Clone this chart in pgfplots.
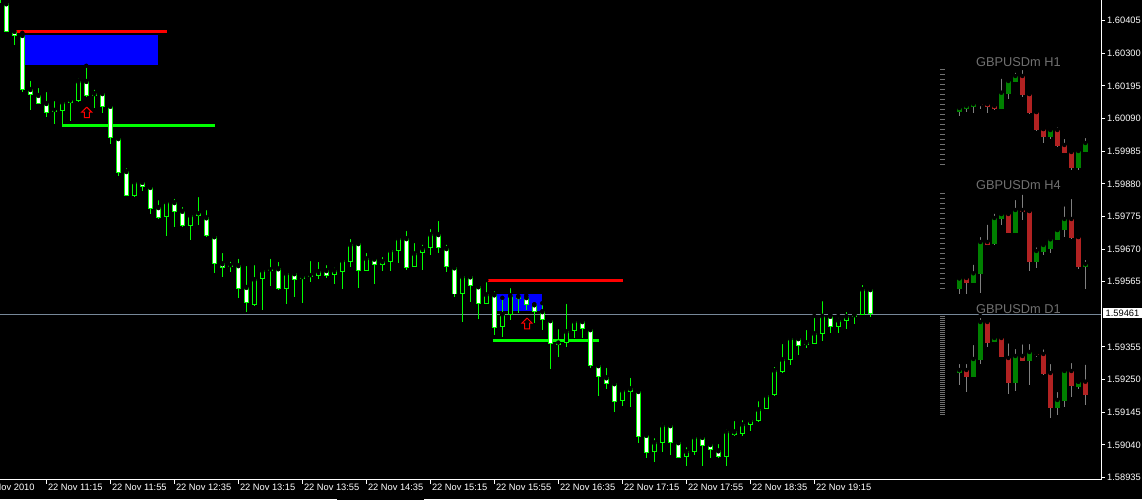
\documentclass[border=0pt]{standalone}
\usepackage{pgfplots}
\pgfplotsset{compat=1.18}
\usepackage{pgfplotstable}
\usepackage{fontspec}
\setmainfont{Liberation Sans}

\definecolor{candle}{RGB}{0,255,0}
\definecolor{bidline}{RGB}{119,136,153}
\definecolor{panelgrey}{RGB}{112,112,112}
\definecolor{wickgrey}{RGB}{128,128,128}
\definecolor{upbody}{RGB}{0,128,0}
\definecolor{downbody}{RGB}{178,34,34}

% GBPUSDm M5 bars: k = bar index (0 = 10:50), open, high, low, close
\pgfplotstableread{
k o h l c
-1 1.60536 1.60536 1.60462 1.60462
0 1.60461 1.60461 1.60370 1.60370
1 1.60372 1.60382 1.60327 1.60357
2 1.60359 1.60366 1.60177 1.60182
3 1.60185 1.60218 1.60118 1.60167
4 1.60166 1.60195 1.60136 1.60138
5 1.60140 1.60182 1.60096 1.60109
6 1.60118 1.60153 1.60073 1.60111
7 1.60115 1.60143 1.60073 1.60143
8 1.60141 1.60163 1.60083 1.60151
9 1.60148 1.60225 1.60144 1.60211
10 1.60211 1.60260 1.60161 1.60164
11 1.60163 1.60190 1.60125 1.60172
12 1.60172 1.60172 1.60107 1.60128
13 1.60131 1.60131 1.60008 1.60029
14 1.60027 1.60027 1.59906 1.59914
15 1.59921 1.59937 1.59842 1.59842
16 1.59841 1.59896 1.59838 1.59886
17 1.59886 1.59899 1.59858 1.59871
18 1.59870 1.59876 1.59783 1.59800
19 1.59805 1.59834 1.59767 1.59771
20 1.59774 1.59824 1.59713 1.59822
21 1.59821 1.59838 1.59741 1.59790
22 1.59793 1.59812 1.59740 1.59745
23 1.59745 1.59789 1.59700 1.59779
24 1.59778 1.59844 1.59748 1.59785
25 1.59772 1.59802 1.59710 1.59713
26 1.59711 1.59711 1.59594 1.59621
27 1.59624 1.59664 1.59581 1.59610
28 1.59618 1.59636 1.59596 1.59613
29 1.59618 1.59645 1.59514 1.59543
30 1.59548 1.59622 1.59468 1.59496
31 1.59490 1.59625 1.59487 1.59573
32 1.59575 1.59602 1.59474 1.59602
33 1.59600 1.59645 1.59552 1.59605
34 1.59608 1.59635 1.59539 1.59543
35 1.59543 1.59592 1.59494 1.59592
36 1.59592 1.59603 1.59517 1.59571
37 1.59575 1.59595 1.59497 1.59583
38 1.59581 1.59638 1.59565 1.59586
39 1.59584 1.59635 1.59574 1.59599
40 1.59602 1.59625 1.59578 1.59584
41 1.59588 1.59617 1.59559 1.59602
42 1.59597 1.59634 1.59542 1.59634
43 1.59629 1.59709 1.59613 1.59685
44 1.59689 1.59699 1.59546 1.59600
45 1.59600 1.59664 1.59600 1.59640
46 1.59639 1.59648 1.59559 1.59620
47 1.59620 1.59651 1.59600 1.59631
48 1.59629 1.59669 1.59600 1.59666
49 1.59665 1.59705 1.59626 1.59705
50 1.59705 1.59735 1.59603 1.59610
51 1.59613 1.59696 1.59613 1.59656
52 1.59656 1.59691 1.59603 1.59673
53 1.59675 1.59741 1.59652 1.59718
54 1.59718 1.59767 1.59658 1.59675
55 1.59673 1.59691 1.59597 1.59613
56 1.59611 1.59611 1.59515 1.59524
57 1.59526 1.59589 1.59436 1.59582
58 1.59582 1.59587 1.59501 1.59550
59 1.59550 1.59550 1.59446 1.59494
60 1.59494 1.59570 1.59494 1.59524
61 1.59524 1.59541 1.59393 1.59415
62 1.59418 1.59513 1.59388 1.59461
63 1.59457 1.59551 1.59442 1.59521
64 1.59519 1.59532 1.59463 1.59510
65 1.59515 1.59521 1.59474 1.59491
66 1.59492 1.59492 1.59432 1.59468
67 1.59470 1.59496 1.59410 1.59441
68 1.59441 1.59448 1.59284 1.59364
69 1.59369 1.59419 1.59324 1.59362
70 1.59367 1.59500 1.59356 1.59405
71 1.59407 1.59442 1.59384 1.59438
72 1.59438 1.59448 1.59384 1.59412
73 1.59412 1.59420 1.59288 1.59295
74 1.59296 1.59307 1.59197 1.59257
75 1.59257 1.59294 1.59221 1.59237
76 1.59238 1.59238 1.59147 1.59179
77 1.59182 1.59221 1.59165 1.59216
78 1.59222 1.59262 1.59163 1.59211
79 1.59213 1.59213 1.59047 1.59066
80 1.59072 1.59077 1.58999 1.59015
81 1.59018 1.59068 1.58985 1.59048
82 1.59047 1.59117 1.59018 1.59103
83 1.59103 1.59103 1.59007 1.59047
84 1.59048 1.59059 1.58999 1.58999
85 1.59002 1.59039 1.58972 1.59019
86 1.59018 1.59078 1.59007 1.59065
87 1.59065 1.59065 1.58972 1.59037
88 1.59042 1.59050 1.58999 1.59024
89 1.59022 1.59049 1.58998 1.59002
90 1.59000 1.59097 1.58972 1.59083
91 1.59083 1.59123 1.59068 1.59073
92 1.59076 1.59126 1.59068 1.59106
93 1.59105 1.59125 1.59085 1.59119
94 1.59118 1.59187 1.59113 1.59154
95 1.59156 1.59210 1.59156 1.59199
96 1.59200 1.59297 1.59197 1.59280
97 1.59274 1.59371 1.59272 1.59315
98 1.59314 1.59393 1.59297 1.59383
99 1.59383 1.59393 1.59329 1.59357
100 1.59360 1.59416 1.59352 1.59370
101 1.59365 1.59455 1.59365 1.59399
102 1.59398 1.59509 1.59375 1.59455
103 1.59455 1.59459 1.59401 1.59420
104 1.59418 1.59455 1.59400 1.59441
105 1.59440 1.59474 1.59413 1.59454
106 1.59452 1.59471 1.59429 1.59460
107 1.59457 1.59561 1.59457 1.59541
108 1.59541 1.59541 1.59452 1.59461
}\mfive

% small overview panels: bar number, open, high, low, close (panel units)
\pgfplotstableread{
i o h l c
1 388.3 394.7 384 392
2 391 396.7 388.3 394
3 393.3 398 387.3 396
4 396 396 391 394.7
5 396 396 387.3 393
6 394 398 390 391
7 391 423.3 391 407.3
8 406.3 421.7 401.3 419
9 418 429.3 418 424
10 424 432 403.3 405.3
11 406 406 386 387.3
12 388 388 369 370
13 371 371 357.3 363.3
14 363.3 372 361.3 370
15 370 374.7 352.7 354
16 355 363 347.3 347.3
17 348 350 330 332
18 332 352.7 330 349
19 348.3 364 348.3 357
}\hone

\pgfplotstableread{
i o h l c
1 211 221.7 206 221.7
2 222 225 206 217.3
3 217.3 237.3 216.7 226.7
4 226.3 265 207.3 258
5 258 277.3 254.7 255.3
6 256.3 288.3 255.3 282
7 281 286 275.3 286
8 286 287.7 267.3 267.3
9 267.3 302 267.3 290
10 290 307.3 280.3 288.3
11 289 289 229.3 238.3
12 238.3 254.7 232.3 249
13 248.3 256.7 245 255
14 251 263.3 246.7 260.7
15 260 270 260 270
16 270.3 295.7 262.7 281
17 281 303 261 262
18 263 263 231.3 233
19 233 242 211.3 236
}\hfour

\pgfplotstableread{
i o h l c
1 127.3 138 115.3 130
2 130 138 108 123.3
3 123.3 157 123.3 141
4 140 184 136 178
5 178 180 153.3 157
6 158 165 158 162
7 162 165 142.7 142.7
8 142 158.7 106.3 117.3
9 117.3 153 108.7 144
10 144 157.7 139 139
11 139 158 115 148
12 146 148.7 143.3 145.3
13 146 152.7 125 126
14 127 138 82.3 92
15 92 110 85 100
16 99 131 93 129
17 129 139 103.3 114.3
18 113.3 118.3 111 118.3
19 118.3 137.3 95 105
}\done

\pgfplotsset{
  wick/.style={only marks, mark=none,
    /pgfplots/error bars/y dir=minus, /pgfplots/error bars/y explicit,
    /pgfplots/error bars/error mark=none,
    /pgfplots/error bars/error bar style={draw=#1, line width=1pt}},
  body/.style 2 args={only marks, mark=none,
    /pgfplots/error bars/y dir=minus, /pgfplots/error bars/y explicit,
    /pgfplots/error bars/error mark=none,
    /pgfplots/error bars/error bar style={draw=#1, line width=#2}},
}

\begin{document}
\begin{tikzpicture}
\fill[black] (0pt,0pt) rectangle (1142pt,500pt);

\begin{axis}[
  at={(0pt,20pt)}, anchor=south west,
  width=1101pt, height=480pt, scale only axis,
  xmin=-0.7875, xmax=136.8375,
  ymin=1.589267, ymax=1.604718,
  axis line style={draw=none},
  clip mode=individual,
  tick align=outside, major tick length=4pt,
  tick style={white, line width=1pt},
  xtick pos=bottom, ytick pos=right,
  xtick={5,13,...,101},
  xticklabels={22 Nov 11:15, 22 Nov 11:55, 22 Nov 12:35,
    22 Nov 13:15, 22 Nov 13:55, 22 Nov 14:35, 22 Nov 15:15, 22 Nov 15:55,
    22 Nov 16:35, 22 Nov 17:15, 22 Nov 17:55, 22 Nov 18:35, 22 Nov 19:15},
  ytick={1.58935,1.59040,1.59145,1.59250,1.59355,1.59565,1.59670,
    1.59775,1.59880,1.59985,1.60090,1.60195,1.60300,1.60405},
  yticklabels={1.58935,1.59040,1.59145,1.59250,1.59355,1.59565,1.59670,
    1.59775,1.59880,1.59985,1.60090,1.60195,1.60300,1.60405},
  tick label style={font=\fontsize{9.3}{10}\selectfont, text=white},
  xticklabel style={anchor=north west, inner sep=0pt, xshift=1.5pt},
  yticklabel style={anchor=west, inner sep=0pt, xshift=2pt},
]
% bid line
\addplot[bidline, line width=1pt] coordinates {(-1,1.59461) (140,1.59461)};

% supply zones and levels
\addplot[fill=blue, draw=none] coordinates {(2.34,1.60263) (18.96,1.60263) (18.96,1.60359) (2.34,1.60359)};
\addplot[red, line width=3pt] coordinates {(1.09,1.60371) (20.09,1.60371)};
\addplot[candle, line width=3pt] coordinates {(6.96,1.60068) (26.09,1.60068)};
\addplot[fill=blue, draw=none] coordinates {(61.09,1.59471) (66.96,1.59471) (66.96,1.59525) (61.09,1.59525)};
\addplot[red, line width=3pt] coordinates {(59.96,1.59569) (77.09,1.59569)};
\addplot[candle, line width=3pt] coordinates {(60.84,1.59376) (74.09,1.59376)};

% candles: wicks, body outline, body fill
\addplot[wick=candle] table[x=k, y=h, y error minus expr={\thisrow{h}-\thisrow{l}}] {\mfive};
\addplot[body={candle}{5pt}] table[x=k, y expr={max(\thisrow{o},\thisrow{c})},
  y error minus expr={abs(\thisrow{o}-\thisrow{c})}] {\mfive};
\addplot[body={black}{3pt}, restrict expr to domain={\thisrow{c}-\thisrow{o}}{0.000075:1}]
  table[x=k, y expr={\thisrow{c}-0.00003}, y error minus expr={\thisrow{c}-\thisrow{o}-0.00006}] {\mfive};
\addplot[body={white}{3pt}, restrict expr to domain={\thisrow{o}-\thisrow{c}}{0.000075:1}]
  table[x=k, y expr={\thisrow{o}-0.00003}, y error minus expr={\thisrow{o}-\thisrow{c}-0.00006}] {\mfive};

% signal arrows
\addplot[red, line width=1pt, fill=black] coordinates {(10.05,1.60127) (10.675,1.60111) (10.375,1.60111)
  (10.375,1.60093) (9.75,1.60093) (9.75,1.60111) (9.425,1.60111) (10.05,1.60127)};
\addplot[red, line width=1pt, fill=black] coordinates {(65.09,1.59448) (65.71,1.59432) (65.40,1.59432)
  (65.40,1.59413) (64.775,1.59413) (64.775,1.59432) (64.46,1.59432) (65.09,1.59448)};

% axis frame, first date label and bid price box
\draw[white, line width=1pt] (rel axis cs:0,0) -- (rel axis cs:1,0) -- (rel axis cs:1,1);
\node[anchor=north west, inner sep=0pt, text=white, font=\fontsize{9.3}{10}\selectfont,
  xshift=-0.7pt, yshift=-4pt] at (axis cs:-3,1.589267) {22 Nov 2010};
\node[fill=white, text=black, anchor=west, inner xsep=2.8pt, inner ysep=0pt, minimum height=10pt,
  font=\fontsize{9.3}{10}\selectfont, xshift=1.7pt, yshift=1pt] at (axis cs:136.8375,1.59461) {1.59461};
\end{axis}

\begin{axis}[
  at={(0pt,0pt)}, anchor=south west,
  width=1142pt, height=500pt, scale only axis,
  xmin=0, xmax=1142, ymin=0, ymax=500,
  hide axis, clip=false,
]
% panel scales
\addplot[panelgrey, line width=4.5pt, dash pattern=on 1pt off 4pt] coordinates {(942.3,431) (942.3,335)};
\addplot[panelgrey, line width=4.5pt, dash pattern=on 1pt off 4pt] coordinates {(942.3,307) (942.3,211)};
\addplot[panelgrey, line width=4.5pt, dash pattern=on 1pt off 1pt] coordinates {(942.3,184) (942.3,84)};

% H1 overview
\addplot[wick=wickgrey] table[x expr={952.3+7*\thisrow{i}}, y=h, y error minus expr={\thisrow{h}-\thisrow{l}}] {\hone};
\addplot[body={upbody}{5pt}, restrict expr to domain={\thisrow{c}-\thisrow{o}}{0:1000}]
  table[x expr={952.3+7*\thisrow{i}}, y=c, y error minus expr={\thisrow{c}-\thisrow{o}}] {\hone};
\addplot[body={downbody}{5pt}, restrict expr to domain={\thisrow{o}-\thisrow{c}}{0:1000}]
  table[x expr={952.3+7*\thisrow{i}}, y=o, y error minus expr={\thisrow{o}-\thisrow{c}}] {\hone};
% H4 overview
\addplot[wick=wickgrey] table[x expr={952.3+7*\thisrow{i}}, y=h, y error minus expr={\thisrow{h}-\thisrow{l}}] {\hfour};
\addplot[body={upbody}{5pt}, restrict expr to domain={\thisrow{c}-\thisrow{o}}{0:1000}]
  table[x expr={952.3+7*\thisrow{i}}, y=c, y error minus expr={\thisrow{c}-\thisrow{o}}] {\hfour};
\addplot[body={downbody}{5pt}, restrict expr to domain={\thisrow{o}-\thisrow{c}}{0:1000}]
  table[x expr={952.3+7*\thisrow{i}}, y=o, y error minus expr={\thisrow{o}-\thisrow{c}}] {\hfour};
% D1 overview
\addplot[wick=wickgrey] table[x expr={952.3+7*\thisrow{i}}, y=h, y error minus expr={\thisrow{h}-\thisrow{l}}] {\done};
\addplot[body={upbody}{5pt}, restrict expr to domain={\thisrow{c}-\thisrow{o}}{0:1000}]
  table[x expr={952.3+7*\thisrow{i}}, y=c, y error minus expr={\thisrow{c}-\thisrow{o}}] {\done};
\addplot[body={downbody}{5pt}, restrict expr to domain={\thisrow{o}-\thisrow{c}}{0:1000}]
  table[x expr={952.3+7*\thisrow{i}}, y=o, y error minus expr={\thisrow{o}-\thisrow{c}}] {\done};

\node[text=panelgrey, font=\fontsize{12.8}{14}\selectfont, anchor=base] at (axis cs:1018.4,433.4) {GBPUSDm H1};
\node[text=panelgrey, font=\fontsize{12.8}{14}\selectfont, anchor=base] at (axis cs:1018.4,310) {GBPUSDm H4};
\node[text=panelgrey, font=\fontsize{12.8}{14}\selectfont, anchor=base] at (axis cs:1018.4,186.7) {GBPUSDm D1};
\end{axis}

\draw[white, line width=1pt] (0pt,0.8pt) -- (337pt,0.8pt) (424pt,0.8pt) -- (1142pt,0.8pt);
\pgfresetboundingbox
\path[use as bounding box] (0pt,0pt) rectangle (1142pt,500pt);
\end{tikzpicture}
\end{document}
